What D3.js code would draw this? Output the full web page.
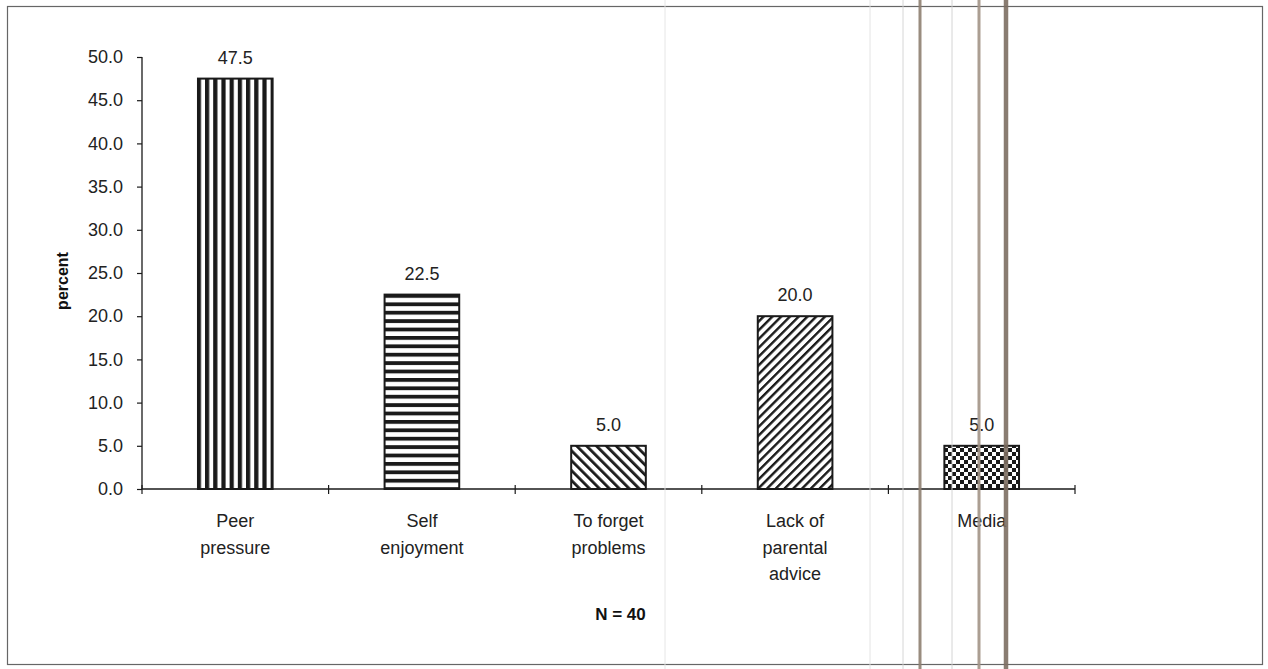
<!DOCTYPE html>
<html>
<head>
<meta charset="utf-8">
<script src="https://cdn.jsdelivr.net/npm/d3@7"></script>
<style>
  html, body { margin: 0; padding: 0; background: #fff; }
  svg { display: block; font-family: "Liberation Sans", Arial, sans-serif; }
</style>
</head>
<body>
<svg id="chart" width="1268" height="669"></svg>
<script>
// ---- data ----
const categories = ["Peer pressure", "Self enjoyment", "To forget problems", "Lack of parental advice", "Media"];
const categoryLines = [["Peer", "pressure"], ["Self", "enjoyment"], ["To forget", "problems"], ["Lack of", "parental", "advice"], ["Media"]];
const values = [47.5, 22.5, 5.0, 20.0, 5.0];
const patterns = ["vstripe", "hstripe", "diagDown", "diagUp", "checker"];
const yTicks = [0, 5, 10, 15, 20, 25, 30, 35, 40, 45, 50];
const yTitle = "percent";
const note = "N = 40";

// ---- layout ----
const svg = d3.select("#chart");
const plotLeft = 142, plotRight = 1075, plotTop = 57, plotBottom = 489;
const ink = "#1a1a1a";

const x = d3.scaleBand().domain(categories).range([plotLeft, plotRight]).padding(0);
const y = d3.scaleLinear().domain([0, 50]).range([plotBottom, plotTop]);

// ---- patterns ----
const defs = svg.append("defs");
let p = defs.append("pattern").attr("id", "vstripe").attr("patternUnits", "userSpaceOnUse").attr("width", 8.2).attr("height", 10);
p.append("rect").attr("width", 8.2).attr("height", 10).attr("fill", "#fff");
p.append("rect").attr("x", 0).attr("width", 4.2).attr("height", 10).attr("fill", ink);

p = defs.append("pattern").attr("id", "hstripe").attr("patternUnits", "userSpaceOnUse").attr("width", 10).attr("height", 8.4);
p.append("rect").attr("width", 10).attr("height", 8.4).attr("fill", "#fff");
p.append("rect").attr("y", 0).attr("width", 10).attr("height", 3.8).attr("fill", ink);

p = defs.append("pattern").attr("id", "diagDown").attr("patternUnits", "userSpaceOnUse").attr("width", 7).attr("height", 7).attr("patternTransform", "rotate(-45)");
p.append("rect").attr("width", 7).attr("height", 7).attr("fill", "#fff");
p.append("rect").attr("width", 2.8).attr("height", 7).attr("fill", ink);

p = defs.append("pattern").attr("id", "diagUp").attr("patternUnits", "userSpaceOnUse").attr("width", 6.2).attr("height", 6.2).attr("patternTransform", "rotate(45)");
p.append("rect").attr("width", 6.2).attr("height", 6.2).attr("fill", "#fff");
p.append("rect").attr("width", 2.4).attr("height", 6.2).attr("fill", ink);

p = defs.append("pattern").attr("id", "checker").attr("patternUnits", "userSpaceOnUse").attr("width", 8).attr("height", 8);
p.append("rect").attr("width", 8).attr("height", 8).attr("fill", "#fff");
p.append("rect").attr("width", 4).attr("height", 4).attr("fill", ink);
p.append("rect").attr("x", 4).attr("y", 4).attr("width", 4).attr("height", 4).attr("fill", ink);

// ---- outer frame ----
svg.append("rect").attr("x", 7.5).attr("y", 6.5).attr("width", 1255).attr("height", 658)
  .attr("fill", "none").attr("stroke", "#666").attr("stroke-width", 1.2);

// ---- bars ----
const barW = x.bandwidth() * 0.4;
svg.append("g").selectAll("rect").data(values).join("rect")
  .attr("x", (d, i) => x(categories[i]) + (x.bandwidth() - barW) / 2)
  .attr("y", d => y(d))
  .attr("width", barW)
  .attr("height", d => y(0) - y(d))
  .attr("fill", (d, i) => `url(#${patterns[i]})`)
  .attr("stroke", ink).attr("stroke-width", 2);

// value labels
svg.append("g").selectAll("text").data(values).join("text")
  .attr("x", (d, i) => x(categories[i]) + x.bandwidth() / 2)
  .attr("y", d => y(d) - 15)
  .attr("text-anchor", "middle")
  .attr("font-size", 18).attr("fill", "#222")
  .text(d => d3.format(".1f")(d));

// ---- y axis ----
const yAxis = svg.append("g").attr("transform", `translate(${plotLeft},0)`)
  .call(d3.axisLeft(y).tickValues(yTicks).tickFormat(d3.format(".1f")).tickSize(5).tickPadding(14));
yAxis.select(".domain").attr("stroke", ink).attr("stroke-width", 1.3).attr("d", `M0,${plotTop}V${plotBottom}`);
yAxis.selectAll(".tick line").attr("stroke", ink).attr("stroke-width", 1.2);
yAxis.selectAll(".tick text").attr("font-size", 18).attr("fill", "#222").attr("font-family", "Liberation Sans, Arial, sans-serif");

// ---- x axis ----
const xg = svg.append("g");
xg.append("line").attr("x1", plotLeft).attr("x2", plotRight).attr("y1", y(0)).attr("y2", y(0))
  .attr("stroke", ink).attr("stroke-width", 1.3);
const bounds = categories.map(c => x(c)).concat([x.range()[1]]);
xg.selectAll("line.tk").data(bounds).join("line").attr("class", "tk")
  .attr("x1", d => d).attr("x2", d => d).attr("y1", y(0) - 4).attr("y2", y(0) + 5)
  .attr("stroke", ink).attr("stroke-width", 1.2);

// category labels
const lab = xg.selectAll("text.cat").data(categoryLines).join("text").attr("class", "cat")
  .attr("text-anchor", "middle").attr("font-size", 18).attr("fill", "#222");
lab.each(function (lines, i) {
  const t = d3.select(this);
  lines.forEach((ln, j) => {
    t.append("tspan").attr("x", x(categories[i]) + x.bandwidth() / 2)
      .attr("y", 527 + j * 26.5).text(ln);
  });
});

// y title
svg.append("text")
  .attr("transform", `translate(68,${(plotTop + plotBottom) / 2 + 8}) rotate(-90)`)
  .attr("text-anchor", "middle").attr("font-size", 16).attr("font-weight", "bold").attr("fill", "#111")
  .text(yTitle);

// N note
svg.append("text").attr("x", (plotLeft + plotRight) / 2 + 12).attr("y", 620)
  .attr("text-anchor", "middle").attr("font-size", 17).attr("font-weight", "bold").attr("fill", "#111")
  .text(note);

// ---- scan artifacts (vertical streaks) ----
const streaks = [
  { px: 665, w: 1, c: "#e4e4e4" },
  { px: 870, w: 1, c: "#e2e2e2" },
  { px: 903, w: 1, c: "#d2d2d2" },
  { px: 920, w: 3, c: "#8f8072" },
  { px: 952, w: 1, c: "#d0d0d0" },
  { px: 979, w: 3, c: "#a39487" },
  { px: 1006, w: 4.5, c: "#7d6e62" }
];
svg.append("g").selectAll("line").data(streaks).join("line")
  .attr("x1", d => d.px).attr("x2", d => d.px).attr("y1", 0).attr("y2", 669)
  .attr("stroke", d => d.c).attr("stroke-width", d => d.w).attr("opacity", 0.9);
</script>
</body>
</html>
